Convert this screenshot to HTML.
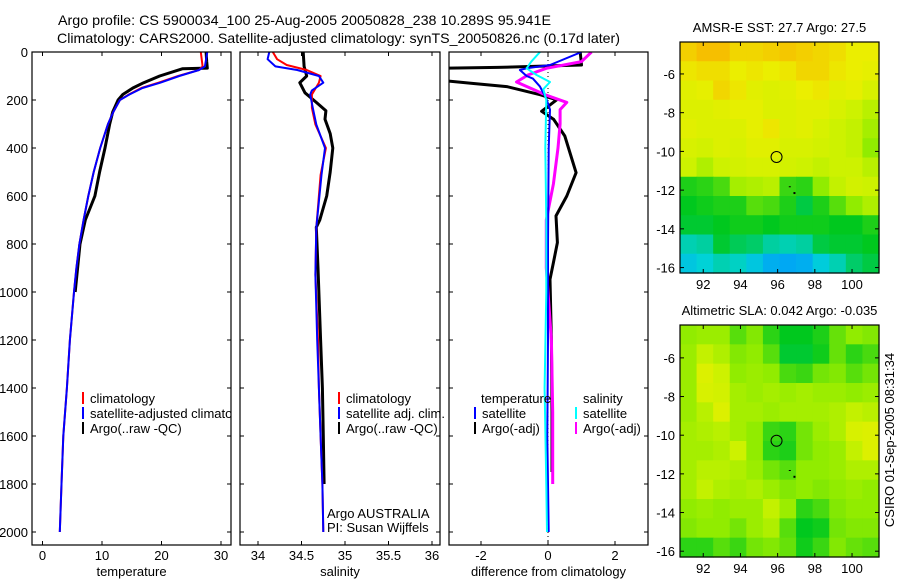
<!DOCTYPE html>
<html><head><meta charset="utf-8"><style>
html,body{margin:0;padding:0;background:#fff;}
svg{display:block;font-family:"Liberation Sans",sans-serif;}
text{font-size:13px;fill:#000;}
</style></head><body>
<svg id="fig" width="900" height="580" viewBox="0 0 900 580">
<text x="58" y="25" textLength="493" lengthAdjust="spacingAndGlyphs" style="font-size:14px">Argo profile: CS 5900034_100 25-Aug-2005 20050828_238 10.289S 95.941E</text>
<text x="57" y="43" textLength="563" lengthAdjust="spacingAndGlyphs" style="font-size:14px">Climatology: CARS2000. Satellite-adjusted climatology: synTS_20050826.nc (0.17d later)</text>
<g id="plots"></g>
</svg>
<script>
// ---------- data ----------
var depthTicks=[0,200,400,600,800,1000,1200,1400,1600,1800,2000];
var tempTicks=[0,10,20,30];
var salTicks=[34,34.5,35,35.5,36];
var salTickLabels=["34","34.5","35","35.5","36"];
var diffTicks=[-2,0,2];

var tClimDepth=[0,60,75,100,128,150,177,200,250,300,400,500,600,700,800,900,1000,1200,1400,1600,1800,2000];
var tClimVal=[26.6,26.9,26.3,22.8,19.5,16.6,14.5,13.0,11.9,11.0,9.7,8.6,7.7,6.9,6.2,5.7,5.3,4.6,4.1,3.5,3.2,2.9];
var tSatDepth=[0,60,75,100,128,150,177,200,250,300,400,500,600,700,800,900,1000,1200,1400,1600,1800,2000];
var tSatVal=[27.7,27.3,26.3,23.0,19.8,16.8,14.6,13.0,11.9,11.0,9.7,8.6,7.7,6.9,6.2,5.7,5.3,4.6,4.1,3.5,3.2,2.9];
var tArgoDepth=[0,40,67,70,100,128,150,177,200,250,300,400,500,600,700,800,900,1000];
var tArgoVal=[27.5,27.6,27.7,23.5,19.7,17.0,15.2,13.5,12.7,11.8,11.3,10.5,9.6,8.8,7.2,6.3,5.9,5.5];

var sClimDepth=[0,30,54,75,100,128,177,233,302,400,512,733,928,1200,1400,1600,1800,2000];
var sClimVal=[34.17,34.22,34.33,34.56,34.72,34.7,34.62,34.62,34.66,34.78,34.72,34.67,34.66,34.69,34.7,34.72,34.74,34.75];
var sSatDepth=[0,30,60,75,100,128,160,177,233,302,400,512,733,928,1200,1400,1600,1800,2000];
var sSatVal=[34.13,34.11,34.2,34.45,34.7,34.75,34.62,34.6,34.63,34.67,34.77,34.73,34.67,34.66,34.68,34.7,34.72,34.74,34.75];
var sArgoDepth=[0,60,100,128,170,210,245,280,340,400,500,600,700,730,900,1200,1400,1600,1800];
var sArgoVal=[34.52,34.53,34.56,34.48,34.54,34.67,34.78,34.77,34.83,34.86,34.83,34.79,34.71,34.67,34.69,34.72,34.74,34.75,34.76];

var dTSatDepth=[0,54,68,75,100,111,144,194,240,400,800,1200,1600,2000];
var dTSatVal=[1.0,0.06,-0.64,-0.84,-0.64,-0.45,-0.24,-0.05,0.06,0.02,0.0,0.0,-0.02,0.02];
var dTArgoDepth=[0,54,64,68,118,130,144,178,199,247,281,350,503,600,683,794,878,947,1200,1500,1750];
var dTArgoVal=[0.96,1.0,-1.5,-3.2,-3.2,-2.3,-1.23,-0.24,0.26,-0.19,0.17,0.5,0.84,0.56,0.24,0.28,0.16,0.06,0.1,0.12,0.12];
var dSSatDepth=[0,40,68,96,125,155,200,400,700,1000,1400,1800,2000];
var dSSatVal=[-0.24,-0.5,-0.64,-0.34,0.06,-0.14,-0.05,-0.08,-0.05,-0.05,-0.1,-0.05,-0.03];
var dSArgoDepth=[0,40,68,96,125,155,180,210,240,300,400,550,700,900,1200,1500,1800];
var dSArgoVal=[1.3,1.0,-0.05,-0.6,-0.94,-0.45,-0.05,0.56,0.36,0.36,0.3,0.16,-0.05,-0.05,0.1,0.14,0.14];

var sstGrid=[
[4.6,4.8,4.8,4.5,4.5,4.6,4.7,4.6,4.5,4.4,4.2,4.2],
[4.3,4.4,4.4,4.2,4.3,4.2,4.3,4.5,4.5,4.3,4.2,4.1],
[4.0,4.1,4.5,4.3,4.0,3.9,4.0,4.2,4.3,4.0,4.1,3.8],
[3.9,3.9,4.0,4.1,4.1,3.9,3.9,4.0,4.0,3.8,3.6,3.4],
[4.0,3.9,3.9,3.9,4.1,4.3,3.9,4.0,3.8,3.6,3.5,3.2],
[3.8,3.7,3.9,3.8,4.0,4.0,3.8,3.8,3.7,3.6,3.5,3.0],
[3.6,3.3,3.6,3.7,3.8,3.8,3.7,3.6,3.5,3.6,3.6,3.4],
[2.2,2.3,2.5,3.2,3.3,3.4,2.4,2.3,3.0,3.5,3.7,3.6],
[2.0,2.1,2.2,2.2,2.6,2.5,2.2,1.8,2.2,2.6,3.0,3.3],
[1.9,1.9,2.0,2.1,2.1,2.0,2.1,2.1,2.1,2.0,2.0,2.2],
[1.2,1.3,1.9,1.7,1.6,1.3,1.2,1.3,1.8,1.9,1.9,2.0],
[0.8,1.0,1.2,1.1,0.8,0.4,0.3,0.4,0.9,1.2,1.6,1.8]];
var slaGrid=[
[3.0,3.1,3.1,2.6,2.9,2.3,2.0,2.0,2.2,2.7,3.0,2.9],
[3.1,3.5,3.3,2.9,3.0,2.6,1.9,1.9,2.1,2.7,2.3,2.5],
[3.1,3.9,3.6,3.0,3.1,3.0,2.5,2.4,2.8,2.9,2.6,2.8],
[3.1,3.8,3.7,3.2,3.1,3.2,3.1,3.2,3.1,3.1,3.0,3.1],
[3.1,3.4,3.9,3.2,3.2,3.1,3.2,3.2,3.2,3.3,3.5,3.4],
[3.2,3.3,3.4,3.2,3.0,2.4,2.3,2.8,3.1,3.3,3.8,3.9],
[3.2,3.2,3.3,3.6,3.0,2.3,2.2,2.8,3.0,3.1,3.5,3.9],
[3.2,3.4,3.4,3.3,3.1,2.8,2.6,3.0,3.0,3.1,3.3,3.3],
[3.2,3.5,3.3,3.2,3.3,3.1,2.9,3.0,2.9,3.0,3.1,3.0],
[3.0,3.1,3.0,3.1,3.1,3.5,3.1,2.3,2.5,2.9,3.0,3.0],
[2.9,3.0,3.0,2.8,3.1,3.3,2.6,2.0,2.1,2.8,2.9,2.9],
[2.3,2.3,2.6,2.4,2.8,2.9,2.7,2.1,2.4,2.9,2.7,2.6]];
var lonTicks=[92,94,96,98,100];
var latTicks=[-6,-8,-10,-12,-14,-16];
var floatLon=[95.941];
var floatLat=[-10.289];

// ---------- drawing ----------
var NS="http://www.w3.org/2000/svg";
var root=document.getElementById('plots');
function mk(tag,attrs,parent){var e=document.createElementNS(NS,tag);for(var k in attrs)e.setAttribute(k,attrs[k]);(parent||root).appendChild(e);return e;}
var Y0=52,Y1=545;
function yD(d){return Y0+d*0.24;}
function xT(v){return 42.5+v*5.95;}
function xS(v){return 258+(v-34)*87;}
function xDf(v){return 548+v*33.5;}
var panels=[{x0:32,x1:231,fx:xT,ticks:tempTicks,labels:tempTicks,name:'temperature'},
{x0:240,x1:440,fx:xS,ticks:salTicks,labels:salTickLabels,name:'salinity'},
{x0:449,x1:648,fx:xDf,ticks:diffTicks,labels:diffTicks,name:'difference from climatology'}];
panels.forEach(function(p,i){
  var g=mk('g',{});
  
  
  var cp=mk('clipPath',{id:'cp'+i},g);mk('rect',{x:p.x0,y:Y0,width:p.x1-p.x0,height:Y1-Y0},cp);
  p.g=g;
});
function drawAxes(p,i){
  var g=p.g;
  depthTicks.forEach(function(d){
    var y=yD(d);
    mk('line',{x1:p.x0,x2:p.x0+4,y1:y,y2:y,stroke:'#000'},g);
    mk('line',{x1:p.x1,x2:p.x1-4,y1:y,y2:y,stroke:'#000'},g);
    if(i==0){var t=mk('text',{x:p.x0-4,y:y+5,'text-anchor':'end'},g);t.textContent=d;
      
      }
  });
  p.ticks.forEach(function(v,k){
    var x=p.fx(v);
    mk('line',{x1:x,x2:x,y1:Y1,y2:Y1-4,stroke:'#000'},g);
    mk('line',{x1:x,x2:x,y1:Y0,y2:Y0+4,stroke:'#000'},g);
    var t=mk('text',{x:x,y:Y1+15,'text-anchor':'middle'},g);t.textContent=p.labels[k];
    
    
  });
  var r=mk('rect',{x:p.x0,y:Y0,width:p.x1-p.x0,height:Y1-Y0,fill:'none',stroke:'#000','stroke-width':1.2},g);
  
  
  var t=mk('text',{x:(p.x0+p.x1)/2,y:576,'text-anchor':'middle'},g);t.textContent=p.name;
  
  
}
function line(p,i,ds,vs,color,w,name){
  var pts=ds.map(function(d,k){return p.fx(vs[k]).toFixed(1)+','+yD(d).toFixed(1);}).join(' ');
  var e=mk('polyline',{points:pts,fill:'none',stroke:color,'stroke-width':w,'clip-path':'url(#cp'+i+')','stroke-linejoin':'round'},p.g);
  
  
}
var P=panels;
var z=mk('line',{x1:xDf(0),x2:xDf(0),y1:Y0,y2:Y1,stroke:'#000','stroke-dasharray':'1,3'},P[2].g);


line(P[0],0,tArgoDepth,tArgoVal,'#000',3,'temp-argo-line');
line(P[0],0,tClimDepth,tClimVal,'#f00',2,'temp-climatology-line');
line(P[0],0,tSatDepth,tSatVal,'#00f',2,'temp-satellite-line');
line(P[1],1,sArgoDepth,sArgoVal,'#000',3,'sal-argo-line');
line(P[1],1,sClimDepth,sClimVal,'#f00',2,'sal-climatology-line');
line(P[1],1,sSatDepth,sSatVal,'#00f',2,'sal-satellite-line');
line(P[2],2,dTArgoDepth,dTArgoVal,'#000',3,'diff-temp-argo-line');
line(P[2],2,dSArgoDepth,dSArgoVal,'#f0f',3,'diff-sal-argo-line');
line(P[2],2,dTSatDepth,dTSatVal,'#00f',2,'diff-temp-satellite-line');
line(P[2],2,dSSatDepth,dSSatVal,'#0ff',2,'diff-sal-satellite-line');
panels.forEach(drawAxes);

function legend(g,x,y,color,label,clip){
  var e=mk('g',{},g);
  if(clip)e.setAttribute('clip-path',clip);
  
  
  mk('rect',{x:x,y:y-11,width:2,height:12,fill:color},e);
  var t=mk('text',{x:x+8,y:y},e);t.textContent=label;
}
legend(P[0].g,82,403,'#f00','climatology','url(#cp0)');
legend(P[0].g,82,418,'#00f','satellite-adjusted climatology','url(#cp0)');
legend(P[0].g,82,433,'#000','Argo(..raw -QC)','url(#cp0)');
legend(P[1].g,338,403,'#f00','climatology');
legend(P[1].g,338,418,'#00f','satellite adj. clim.');
legend(P[1].g,338,433,'#000','Argo(..raw -QC)');
var th=mk('text',{x:481,y:403},P[2].g);th.textContent='temperature';


var sh=mk('text',{x:583,y:403},P[2].g);sh.textContent='salinity';


legend(P[2].g,474,418,'#00f','satellite');
legend(P[2].g,474,433,'#000','Argo(-adj)');
legend(P[2].g,575,418,'#0ff','satellite');
legend(P[2].g,575,433,'#f0f','Argo(-adj)');
var a1=mk('text',{x:327,y:518},P[1].g);a1.textContent='Argo AUSTRALIA';


var a2=mk('text',{x:327,y:532},P[1].g);a2.textContent='PI: Susan Wijffels';



// ---------- maps ----------
var stops=[[0,[0,150,255]],[1,[0,210,215]],[2,[0,200,30]],[3,[145,236,0]],[3.6,[205,242,0]],[4.2,[235,238,0]],[5,[250,175,0]]];
function cmap(v){
  for(var i=1;i<stops.length;i++){if(v<=stops[i][0]){var a=stops[i-1],b=stops[i],t=(v-a[0])/(b[0]-a[0]);
    return 'rgb('+a[1].map(function(c,k){return Math.round(c+(b[1][k]-c)*t);}).join(',')+')';}}
  return 'rgb(250,175,0)';
}
var MX0=680,MX1=879,LON0=90.75,LON1=101.45;
function xL(lon){return MX0+(lon-LON0)*(MX1-MX0)/(LON1-LON0);}
function drawMap(grid,top,bot,latTop,latBot,title,name){
  var g=mk('g',{});
  
  
  function yL(lat){return top+(latTop-lat)*(bot-top)/(latTop-latBot);}
  var rows=grid.length,cols=grid[0].length,cw=(MX1-MX0)/cols,ch=(bot-top)/rows;
  grid.forEach(function(r,ri){r.forEach(function(v,ci){
    var c=mk('rect',{x:MX0+ci*cw,y:top+ri*ch,width:cw+0.6,height:ch+0.6,fill:cmap(v)},g);
    
    
  });});
  mk('rect',{x:MX0,y:top,width:MX1-MX0,height:bot-top,fill:'none',stroke:'#000','stroke-width':1.2},g);
  lonTicks.forEach(function(l){var x=xL(l);
    mk('line',{x1:x,x2:x,y1:bot,y2:bot-4,stroke:'#000'},g);mk('line',{x1:x,x2:x,y1:top,y2:top+4,stroke:'#000'},g);
    var t=mk('text',{x:x,y:bot+16,'text-anchor':'middle'},g);t.textContent=l;
    
    });
  latTicks.forEach(function(l){var y=yL(l);
    mk('line',{x1:MX0,x2:MX0+4,y1:y,y2:y,stroke:'#000'},g);mk('line',{x1:MX1,x2:MX1-4,y1:y,y2:y,stroke:'#000'},g);
    var t=mk('text',{x:MX0-5,y:y+5,'text-anchor':'end'},g);t.textContent=l;
    
    });
  var c=mk('circle',{cx:xL(floatLon[0]),cy:yL(floatLat[0]),r:5.5,fill:'none',stroke:'#000'},g);
  
  
  mk('rect',{x:xL(96.6),y:yL(-11.8),width:2,height:1,fill:'#000'},g);
  mk('rect',{x:xL(96.85),y:yL(-12.1),width:2,height:2,fill:'#000'},g);
  var t=mk('text',{x:(MX0+MX1)/2,y:top-10,'text-anchor':'middle'},g);t.textContent=title;
  
  
}
drawMap(sstGrid,42,273,-4.35,-16.28,'AMSR-E SST: 27.7 Argo: 27.5','sst-map');
drawMap(slaGrid,325,557,-4.3,-16.3,'Altimetric SLA: 0.042 Argo: -0.035','sla-map');
var st=mk('text',{x:0,y:0,'text-anchor':'middle',transform:'translate(894,440) rotate(-90)'});
st.textContent='CSIRO 01-Sep-2005 08:31:34';


</script>
</body></html>
